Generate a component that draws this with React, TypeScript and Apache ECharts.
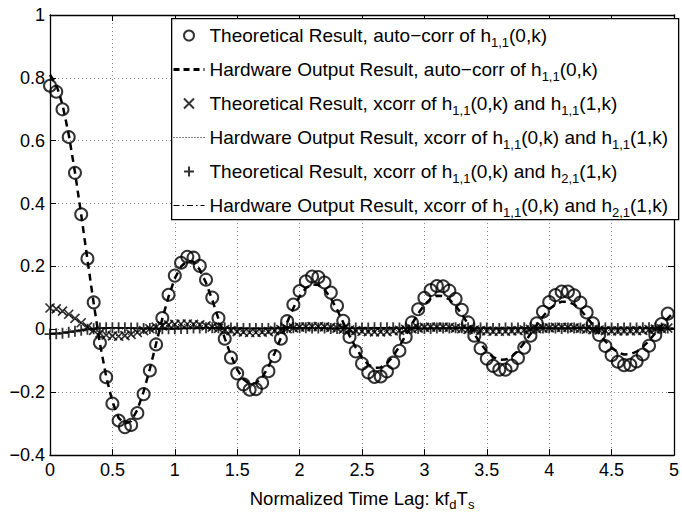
import React, { useEffect, useRef } from "react";
import * as echarts from "echarts";

const FONT = "'Liberation Sans', Arial, Helvetica, sans-serif";

// lag grid: k * 0.05 (normalized time lag kfdTs)
const lagOf = (i: number) => Math.round(i * 5) / 100;

// Theoretical auto-correlation of h11(0,k) (circles), lags 0 .. 4.95
const AUTO_THEO = [
  0.775, 0.756, 0.700, 0.612, 0.498, 0.366, 0.225, 0.086, -0.043, -0.152,
  -0.236, -0.290, -0.311, -0.304, -0.266, -0.206, -0.131, -0.048, 0.036, 0.110,
  0.171, 0.212, 0.231, 0.228, 0.202, 0.158, 0.101, 0.036, -0.030, -0.090,
  -0.140, -0.175, -0.192, -0.190, -0.170, -0.133, -0.085, -0.030, 0.026, 0.079,
  0.122, 0.153, 0.168, 0.166, 0.149, 0.117, 0.075, 0.027, -0.024, -0.070,
  -0.109, -0.137, -0.151, -0.150, -0.134, -0.106, -0.068, -0.024, 0.022, 0.064,
  0.100, 0.125, 0.138, 0.137, 0.123, 0.097, 0.062, 0.022, -0.020, -0.060,
  -0.093, -0.116, -0.128, -0.128, -0.115, -0.091, -0.058, -0.020, 0.019, 0.056,
  0.087, 0.109, 0.120, 0.120, 0.108, 0.085, 0.054, 0.019, -0.018, -0.053,
  -0.082, -0.103, -0.114, -0.113, -0.102, -0.080, -0.052, -0.018, 0.017, 0.050,
];

// Hardware output auto-correlation (dashed), lags 0 .. 5
const AUTO_HW = [
  0.810, 0.780, 0.715, 0.620, 0.500, 0.365, 0.222, 0.083, -0.045, -0.150,
  -0.230, -0.282, -0.300, -0.292, -0.256, -0.198, -0.126, -0.046, 0.034, 0.104,
  0.162, 0.200, 0.218, 0.215, 0.190, 0.148, 0.094, 0.033, -0.028, -0.083,
  -0.128, -0.159, -0.174, -0.171, -0.153, -0.119, -0.076, -0.027, 0.022, 0.068,
  0.105, 0.131, 0.143, 0.141, 0.126, 0.099, 0.063, 0.022, -0.020, -0.058,
  -0.090, -0.112, -0.122, -0.121, -0.108, -0.085, -0.054, -0.019, 0.017, 0.050,
  0.078, 0.097, 0.107, 0.106, 0.095, 0.075, 0.048, 0.017, -0.015, -0.045,
  -0.070, -0.088, -0.097, -0.096, -0.087, -0.068, -0.043, -0.015, 0.014, 0.041,
  0.064, 0.080, 0.088, 0.088, 0.079, 0.062, 0.039, 0.014, -0.013, -0.038,
  -0.058, -0.073, -0.080, -0.079, -0.071, -0.056, -0.036, -0.012, 0.012, 0.035,
  0.055,
];

// Theoretical xcorr of h11(0,k) and h11(1,k) (x markers)
const XC11_THEO = [
  0.068, 0.065, 0.058, 0.048, 0.035, 0.021, 0.008, -0.003, -0.012, -0.018,
  -0.021, -0.022, -0.020, -0.016, -0.010, -0.004, 0.002, 0.007, 0.011, 0.014,
  0.016, 0.017, 0.017, 0.016, 0.014, 0.011, 0.007, 0.003, -0.001, -0.004,
  -0.007, -0.009, -0.010, -0.010, -0.009, -0.007, -0.004, -0.001, 0.002, 0.005,
  0.007, 0.008, 0.009, 0.009, 0.008, 0.006, 0.004, 0.001, -0.002, -0.004,
  -0.006, -0.007, -0.008, -0.008, -0.007, -0.005, -0.003, 0.000, 0.002, 0.004,
  0.006, 0.007, 0.007, 0.007, 0.006, 0.004, 0.002, 0.000, -0.002, -0.004,
  -0.005, -0.006, -0.006, -0.006, -0.005, -0.004, -0.002, 0.000, 0.002, 0.004,
  0.005, 0.006, 0.006, 0.006, 0.005, 0.003, 0.001, -0.001, -0.002, -0.004,
  -0.005, -0.005, -0.005, -0.005, -0.004, -0.003, -0.001, 0.001, 0.002, 0.004,
];

// Hardware xcorr of h11(0,k) and h11(1,k) (dotted)
const XC11_HW = [
  0.062, 0.060, 0.054, 0.045, 0.033, 0.020, 0.008, -0.002, -0.010, -0.016,
  -0.019, -0.020, -0.018, -0.014, -0.009, -0.003, 0.002, 0.006, 0.010, 0.013,
  0.015, 0.016, 0.016, 0.015, 0.013, 0.010, 0.006, 0.002, -0.001, -0.004,
  -0.006, -0.008, -0.009, -0.009, -0.008, -0.006, -0.003, 0.000, 0.002, 0.005,
  0.006, 0.007, 0.008, 0.008, 0.007, 0.005, 0.003, 0.001, -0.002, -0.004,
  -0.005, -0.006, -0.007, -0.007, -0.006, -0.004, -0.002, 0.000, 0.002, 0.004,
  0.005, 0.006, 0.006, 0.006, 0.005, 0.003, 0.002, 0.000, -0.002, -0.003,
  -0.004, -0.005, -0.005, -0.005, -0.004, -0.003, -0.001, 0.000, 0.002, 0.003,
  0.004, 0.005, 0.005, 0.005, 0.004, 0.003, 0.001, -0.001, -0.002, -0.003,
  -0.004, -0.004, -0.004, -0.004, -0.003, -0.002, -0.001, 0.001, 0.002, 0.003,
  0.004,
];

// Theoretical xcorr of h11(0,k) and h21(1,k) (+ markers)
const XC21_THEO = [
  -0.015, -0.014, -0.012, -0.009, -0.006, -0.003, 0.000, 0.002, 0.004, 0.005,
  0.005, 0.005, 0.005, 0.004, 0.004, 0.003, 0.003, 0.002, 0.002, 0.002,
  0.002, 0.003, 0.003, 0.004, 0.004, 0.005, 0.005, 0.005, 0.005, 0.004,
  0.004, 0.003, 0.003, 0.003, 0.003, 0.003, 0.004, 0.004, 0.005, 0.005,
  0.005, 0.005, 0.004, 0.004, 0.004, 0.003, 0.003, 0.003, 0.003, 0.004,
  0.004, 0.004, 0.005, 0.005, 0.005, 0.005, 0.004, 0.004, 0.004, 0.003,
  0.003, 0.003, 0.004, 0.004, 0.004, 0.005, 0.005, 0.005, 0.004, 0.004,
  0.004, 0.003, 0.003, 0.004, 0.004, 0.004, 0.005, 0.005, 0.005, 0.004,
  0.004, 0.004, 0.003, 0.004, 0.004, 0.004, 0.005, 0.005, 0.004, 0.004,
  0.004, 0.003, 0.004, 0.004, 0.004, 0.005, 0.005, 0.004, 0.004, 0.004,
];

// Hardware xcorr of h11(0,k) and h21(1,k) (dash-dot)
const XC21_HW = [
  -0.013, -0.012, -0.010, -0.008, -0.005, -0.002, 0.000, 0.002, 0.003, 0.004,
  0.004, 0.004, 0.004, 0.004, 0.003, 0.003, 0.002, 0.002, 0.002, 0.002,
  0.002, 0.002, 0.003, 0.003, 0.004, 0.004, 0.004, 0.004, 0.004, 0.004,
  0.003, 0.003, 0.003, 0.003, 0.003, 0.003, 0.003, 0.004, 0.004, 0.004,
  0.004, 0.004, 0.004, 0.004, 0.003, 0.003, 0.003, 0.003, 0.003, 0.003,
  0.004, 0.004, 0.004, 0.004, 0.004, 0.004, 0.004, 0.003, 0.003, 0.003,
  0.003, 0.003, 0.003, 0.004, 0.004, 0.004, 0.004, 0.004, 0.004, 0.003,
  0.003, 0.003, 0.003, 0.003, 0.004, 0.004, 0.004, 0.004, 0.004, 0.004,
  0.003, 0.003, 0.003, 0.003, 0.004, 0.004, 0.004, 0.004, 0.004, 0.003,
  0.003, 0.003, 0.003, 0.004, 0.004, 0.004, 0.004, 0.004, 0.003, 0.003,
  0.003,
];

const SERIES_NAMES = [
  "Theoretical Result, auto-corr of h11(0,k)",
  "Hardware Output Result, auto-corr of h11(0,k)",
  "Theoretical Result, xcorr of h11(0,k) and h11(1,k)",
  "Hardware Output Result, xcorr of h11(0,k) and h11(1,k)",
  "Theoretical Result, xcorr of h11(0,k) and h21(1,k)",
  "Hardware Output Result, xcorr of h11(0,k) and h21(1,k)",
];

const LEGEND_LABELS = [
  "Theoretical Result, auto\u2212corr of h{s|1,1}(0,k)",
  "Hardware Output Result, auto\u2212corr of h{s|1,1}(0,k)",
  "Theoretical Result, xcorr of h{s|1,1}(0,k) and h{s|1,1}(1,k)",
  "Hardware Output Result, xcorr of h{s|1,1}(0,k) and h{s|1,1}(1,k)",
  "Theoretical Result, xcorr of h{s|1,1}(0,k) and h{s|2,1}(1,k)",
  "Hardware Output Result, xcorr of h{s|1,1}(0,k) and h{s|2,1}(1,k)",
];

const X_TICK_STEP = 0.5;
const Y_TICK_STEP = 0.2;

const pairs = (vals: number[]) => vals.map((v, i) => [lagOf(i), v]);

const SYM_X = "path://M0,0L10,10M10,0L0,10";
const SYM_PLUS = "path://M5,0L5,10M0,5L10,5";

export default function App() {
  const ref = useRef<HTMLDivElement>(null);
  useEffect(() => {
    if (!ref.current) return;
    const chart = echarts.init(ref.current, undefined, { renderer: "svg" });
    const fmtY = (v: number) => {
      const r = Math.round(v * 10) / 10;
      return r < 0 ? "\u2212" + Math.abs(r) : String(r);
    };
    const fmtX = (v: number) => String(Math.round(v * 10) / 10);
    const legendSub = {
      fontSize: 13,
      fontFamily: FONT,
      color: "#000",
      lineHeight: 13,
      padding: [14, 0, 0, 0],
      verticalAlign: "bottom",
    };
    const nameSub = {
      fontSize: 13,
      fontFamily: FONT,
      color: "#000",
      lineHeight: 13,
      padding: [14, 0, 0, 0],
      verticalAlign: "bottom",
    };
    const axisCommon = { min: 0, max: 5, interval: X_TICK_STEP };
    const yCommon = { min: -0.4, max: 1, interval: Y_TICK_STEP };
    const hideSym = { color: "rgba(0,0,0,0)", borderColor: "rgba(0,0,0,0)", borderWidth: 0, opacity: 0 };
    chart.setOption({
      animation: false,
      backgroundColor: "#fff",
      grid: { left: 50, right: 3, top: 15, bottom: 55, containLabel: false },
      xAxis: [
        {
          type: "value",
          position: "bottom",
          ...axisCommon,
          axisLine: { show: true, onZero: false, lineStyle: { color: "#000", width: 1.3 } },
          axisTick: { show: true, inside: true, length: 6, lineStyle: { color: "#000" } },
          axisLabel: { fontFamily: FONT, fontSize: 18, color: "#000", margin: 6, formatter: fmtX },
          splitLine: { show: true, lineStyle: { color: "#888", type: [1, 3], width: 1 } },
          name: "Normalized Time Lag: kf{s|d}T{s|s}",
          nameLocation: "middle",
          nameGap: 22,
          nameTextStyle: {
            fontFamily: FONT,
            fontSize: 18.5,
            color: "#000",
            lineHeight: 26,
            rich: { s: nameSub },
          },
        },
        {
          type: "value",
          position: "top",
          ...axisCommon,
          axisLine: { show: true, onZero: false, lineStyle: { color: "#000", width: 1.3 } },
          axisTick: { show: true, inside: true, length: 6, lineStyle: { color: "#000" } },
          axisLabel: { show: false },
          splitLine: { show: false },
        },
      ],
      yAxis: [
        {
          type: "value",
          position: "left",
          ...yCommon,
          axisLine: { show: true, onZero: false, lineStyle: { color: "#000", width: 1.3 } },
          axisTick: { show: true, inside: true, length: 6, lineStyle: { color: "#000" } },
          axisLabel: { fontFamily: FONT, fontSize: 18, color: "#000", margin: 5, formatter: fmtY },
          splitLine: { show: true, lineStyle: { color: "#888", type: [1, 3], width: 1 } },
        },
        {
          type: "value",
          position: "right",
          ...yCommon,
          axisLine: { show: true, onZero: false, lineStyle: { color: "#000", width: 1.3 } },
          axisTick: { show: true, inside: true, length: 6, lineStyle: { color: "#000" } },
          axisLabel: { show: false },
          splitLine: { show: false },
        },
      ],
      graphic: [
        {
          type: "rect",
          left: 171,
          top: 18,
          z: 3,
          shape: { width: 507, height: 201 },
          style: { fill: "#fff", stroke: "#000", lineWidth: 1.3 },
        },
      ],
      legend: {
        orient: "vertical",
        left: 172,
        top: 22,
        z: 6,
        itemWidth: 31,
        itemHeight: 10,
        itemGap: 7,
        padding: 0,
        selectedMode: false,
        symbolKeepAspect: true,
        formatter: (name: string) => LEGEND_LABELS[SERIES_NAMES.indexOf(name)],
        textStyle: {
          fontFamily: FONT,
          fontSize: 19,
          color: "#000",
          lineHeight: 27,
          rich: { s: legendSub },
        },
        data: [
          { name: SERIES_NAMES[0] },
          { name: SERIES_NAMES[1], itemStyle: hideSym, lineStyle: { width: 3, type: [6, 4] } },
          { name: SERIES_NAMES[2] },
          { name: SERIES_NAMES[3], itemStyle: hideSym, lineStyle: { width: 1, type: [1, 2] } },
          { name: SERIES_NAMES[4] },
          { name: SERIES_NAMES[5], itemStyle: hideSym, lineStyle: { width: 1.2, type: [6, 3, 1.5, 3] } },
        ],
      },
      series: [
        {
          name: SERIES_NAMES[0],
          type: "scatter",
          symbol: "circle",
          symbolSize: 12,
          itemStyle: { color: "rgba(0,0,0,0)", borderColor: "#000", borderWidth: 2 },
          data: pairs(AUTO_THEO),
          z: 3,
        },
        {
          name: SERIES_NAMES[1],
          type: "line",
          showSymbol: false,
          symbol: "none",
          lineStyle: { color: "#000", width: 2.5, type: [7, 5] },
          itemStyle: { color: "#000" },
          data: pairs(AUTO_HW),
          z: 2,
        },
        {
          name: SERIES_NAMES[2],
          type: "scatter",
          symbol: SYM_X,
          symbolSize: 9,
          symbolKeepAspect: true,
          itemStyle: { color: "rgba(0,0,0,0)", borderColor: "#000", borderWidth: 1.7 },
          data: pairs(XC11_THEO),
          z: 3,
        },
        {
          name: SERIES_NAMES[3],
          type: "line",
          showSymbol: false,
          symbol: "none",
          lineStyle: { color: "#000", width: 1, type: [1, 2] },
          itemStyle: { color: "#000" },
          data: pairs(XC11_HW),
          z: 2,
        },
        {
          name: SERIES_NAMES[4],
          type: "scatter",
          symbol: SYM_PLUS,
          symbolSize: 11,
          symbolKeepAspect: true,
          itemStyle: { color: "rgba(0,0,0,0)", borderColor: "#000", borderWidth: 1.8 },
          data: pairs(XC21_THEO),
          z: 3,
        },
        {
          name: SERIES_NAMES[5],
          type: "line",
          showSymbol: false,
          symbol: "none",
          lineStyle: { color: "#000", width: 1.2, type: [6, 3, 1.5, 3] },
          itemStyle: { color: "#000" },
          data: pairs(XC21_HW),
          z: 2,
        },
      ],
    });
    return () => chart.dispose();
  }, []);
  return (
    <div
      ref={ref}
      style={{ position: "fixed", left: 0, top: 0, width: 682, height: 516, background: "#fff" }}
    />
  );
}
